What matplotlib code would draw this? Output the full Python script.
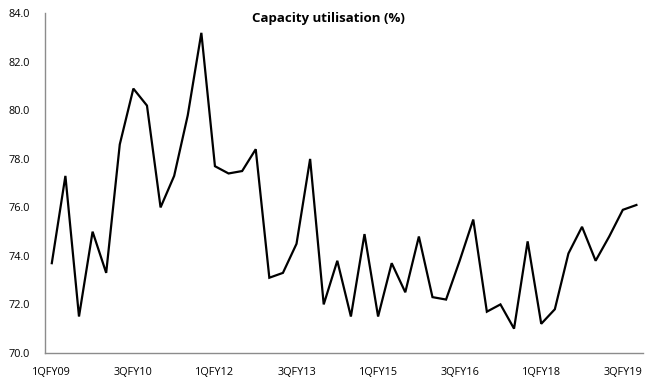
import matplotlib
matplotlib.use("Agg")
import matplotlib.pyplot as plt

# quarterly capacity utilisation, 1QFY09 .. 4QFY19
quarters = ["%dQFY%02d" % (q, fy) for fy in range(9, 20) for q in range(1, 5)]
utilisation = [
    73.7, 77.3, 71.5, 75.0, 73.3, 78.6, 80.9, 80.2,
    76.0, 77.3, 79.8, 83.2, 77.7, 77.4, 77.5, 78.4,
    73.1, 73.3, 74.5, 78.0, 72.0, 73.8, 71.5, 74.9,
    71.5, 73.7, 72.5, 74.8, 72.3, 72.2, 73.8, 75.5,
    71.7, 72.0, 71.0, 74.6, 71.2, 71.8, 74.1, 75.2,
    73.8, 74.8, 75.9, 76.1,
]
y_ticks = [70, 72, 74, 76, 78, 80, 82, 84]

plt.rcParams['font.family'] = ['Open Sans', 'DejaVu Sans']

fig = plt.figure(figsize=(6.57, 3.84), dpi=100)
ax = fig.add_axes([0.0685, 0.081, 0.9105, 0.884])

x = list(range(len(quarters)))
ax.plot(x, utilisation, color="black", linewidth=1.6, solid_joinstyle="miter")

ax.set_xlim(-0.5, len(quarters) - 0.5)
ax.set_ylim(70, 84)
ax.set_yticks(y_ticks)
ax.set_yticklabels(["%.1f" % v for v in y_ticks])
ax.set_xticks(x[::6])
ax.set_xticklabels(quarters[::6])

for side in ("top", "right"):
    ax.spines[side].set_visible(False)
for side in ("left", "bottom"):
    ax.spines[side].set_color("#8c8c8c")
    ax.spines[side].set_linewidth(1.0)

ax.tick_params(axis="both", length=0, labelsize=7.8, colors="black")
ax.tick_params(axis="y", pad=11)
ax.tick_params(axis="x", pad=10)

fig.text(0.5, 0.951, "Capacity utilisation (%)", fontsize=9.5, fontweight="bold",
         ha="center", va="center")

fig.savefig("out.png", dpi=100)
